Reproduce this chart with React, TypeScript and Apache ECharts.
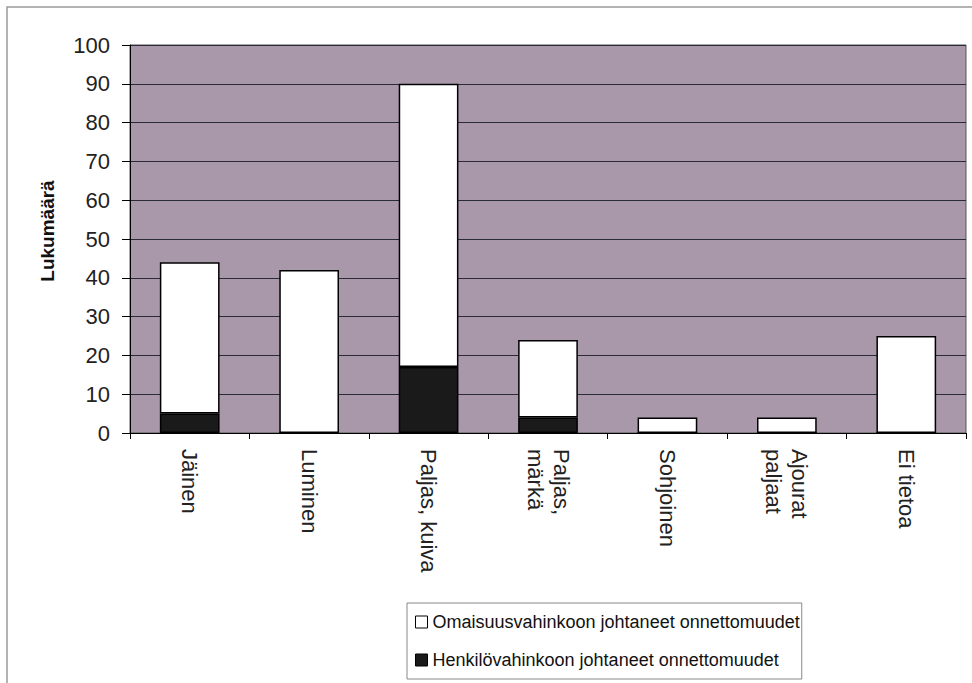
import React, { useEffect, useRef } from "react";
import * as echarts from "echarts";

const categories = [
  "Jäinen",
  "Luminen",
  "Paljas, kuiva",
  "Paljas,\nmärkä",
  "Sohjoinen",
  "Ajourat\npaljaat",
  "Ei tietoa",
];
const henkiloValues = [5, 0, 17, 4, 0, 0, 0];
const omaisuusValues = [39, 42, 73, 20, 4, 4, 25];
const yTicks = { min: 0, max: 100, interval: 10 };
const yTitle = "Lukumäärä";
const seriesNames = [
  "Omaisuusvahinkoon johtaneet onnettomuudet",
  "Henkilövahinkoon johtaneet onnettomuudet",
];

const FONT = "'Liberation Sans', Arial, sans-serif";

export default function App() {
  const ref = useRef<HTMLDivElement>(null);
  useEffect(() => {
    if (!ref.current) return;
    const chart = echarts.init(ref.current, undefined, { renderer: "svg" });
    chart.setOption({
      animation: false,
      backgroundColor: "#ffffff",
      textStyle: { fontFamily: FONT },
      graphic: [
        {
          type: "rect",
          shape: { x: 7, y: 7, width: 1000, height: 700 },
          style: { fill: "none", stroke: "#9a9a9a", lineWidth: 1.5 },
          silent: true,
        },
        {
          type: "text",
          x: 47,
          y: 231,
          rotation: Math.PI / 2,
          style: {
            text: yTitle,
            fontFamily: FONT,
            fontSize: 19,
            fontWeight: "bold",
            fill: "#111",
            align: "center",
            verticalAlign: "middle",
          },
          silent: true,
        },
      ],
      grid: {
        left: 130,
        top: 45,
        right: 6,
        bottom: 250,
        show: true,
        backgroundColor: "#a898a9",
        borderColor: "#555555",
        borderWidth: 1,
      },
      legend: {
        orient: "vertical",
        left: 407,
        top: 603,
        data: [
          { name: seriesNames[0], itemStyle: { color: "#ffffff", borderColor: "#000", borderWidth: 1 } },
          { name: seriesNames[1], itemStyle: { color: "#1a1a1a", borderColor: "#000", borderWidth: 1 } },
        ],
        itemWidth: 12,
        itemHeight: 12,
        itemGap: 16,
        padding: [8, 2, 8, 8],
        borderColor: "#888888",
        borderWidth: 1,
        icon: "rect",
        textStyle: { fontFamily: FONT, fontSize: 18, color: "#111", lineHeight: 22 },
      },
      xAxis: {
        type: "category",
        data: categories,
        axisLine: { show: true, lineStyle: { color: "#000", width: 1 } },
        axisTick: { show: true, length: 6, lineStyle: { color: "#000" } },
        axisLabel: {
          rotate: -90,
          interval: 0,
          margin: 16,
          fontSize: 22,
          color: "#222",
          fontFamily: FONT,
          lineHeight: 26,
        },
      },
      yAxis: {
        type: "value",
        min: yTicks.min,
        max: yTicks.max,
        interval: yTicks.interval,
        axisLine: { show: true, lineStyle: { color: "#000", width: 1 } },
        axisTick: { show: true, inside: false, length: 8, lineStyle: { color: "#000" } },
        axisLabel: { fontSize: 22, color: "#222", margin: 20, fontFamily: FONT },
        splitLine: { show: true, lineStyle: { color: "#2a2a3a", width: 1 } },
      },
      series: [
        {
          name: seriesNames[1],
          type: "bar",
          stack: "total",
          data: henkiloValues,
          barWidth: "50%",
          itemStyle: { color: "#1a1a1a", borderColor: "#000", borderWidth: 1.5 },
        },
        {
          name: seriesNames[0],
          type: "bar",
          stack: "total",
          data: omaisuusValues,
          barWidth: "50%",
          itemStyle: { color: "#ffffff", borderColor: "#000", borderWidth: 1.5 },
        },
      ],
    });
    return () => chart.dispose();
  }, []);
  return <div ref={ref} style={{ width: 972, height: 683, position: "absolute", left: 0, top: 0 }} />;
}
